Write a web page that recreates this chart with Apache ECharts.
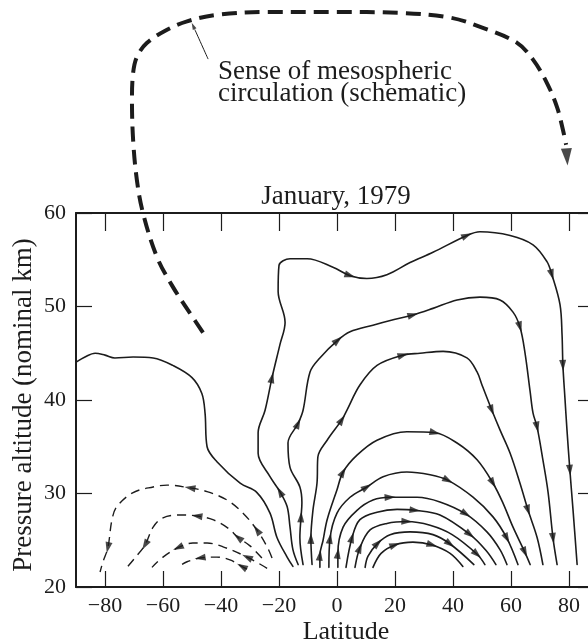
<!DOCTYPE html>
<html><head><meta charset="utf-8">
<script src="https://cdn.jsdelivr.net/npm/echarts@6/dist/echarts.min.js"></script>
<style>html,body{margin:0;padding:0;background:#fff}#c{width:588px;height:644px}</style>
</head><body><div id="c"></div>
<script>
// ---- tick values ----
const xTicks = [-80, -60, -40, -20, 0, 20, 40, 60, 80];
const yTicks = [20, 30, 40, 50, 60];

// ---- streamlines [latitude, pressure altitude km] ----
const boundary = [[-89.7,44.1],[-86.9,44.6],[-83.4,45.0],[-80.0,44.8],[-76.6,44.5],[-70.3,44.6],[-63.4,44.5],[-56.6,43.7],[-50.0,42.4],[-46.6,40.7],[-45.5,38.6],[-44.8,35.0],[-41.4,33.4],[-33.4,31.1],[-27.6,30.1],[-23.1,27.9],[-20.7,25.3],[-17.2,23.2],[-15.2,22.2]];

const s2 = [[-13.4,22.4],[-15.2,24.0],[-16.2,26.4],[-17.2,28.6],[-19.7,30.2],[-23.1,31.8],[-27.2,34.3],[-27.2,36.5],[-24.8,38.9],[-22.4,42.4],[-19.7,45.9],[-17.9,48.3],[-20.3,51.6],[-20.0,54.4],[-16.2,55.1],[-10.3,55.1],[-1.4,54.2],[4.5,53.3],[10.3,53.0],[17.2,53.4],[25.2,54.7],[33.1,55.8],[44.8,57.6],[49.3,58.0],[59.7,57.6],[67.6,56.6],[72.4,54.8],[74.1,53.4],[76.9,50.2],[77.6,47.0],[77.9,43.7],[78.6,40.2],[79.3,36.8],[80.3,32.5],[81.4,28.2],[82.8,22.4]];
const s2Arrows = [4, 9, 17, 22, 27, 30, 33];

const s3 = [[-11.7,22.4],[-12.8,25.3],[-12.4,27.5],[-12.1,29.0],[-12.8,30.7],[-16.2,32.8],[-16.9,35.4],[-13.4,37.5],[-11.7,38.9],[-9.3,43.0],[-5.9,44.5],[0.3,46.4],[4.5,47.3],[12.4,48.0],[19.7,48.6],[26.2,49.1],[33.1,49.8],[41.4,50.7],[49.3,51.0],[56.2,50.7],[60.7,49.4],[63.1,47.8],[64.8,45.1],[66.6,40.9],[67.6,38.6],[69.0,37.1],[71.0,33.6],[72.8,30.1],[74.5,25.2],[75.9,22.4]];
const s3Arrows = [2, 7, 11, 15, 21, 25, 28];

const s4 = [[-8.6,22.4],[-9.0,25.2],[-8.3,28.2],[-6.9,31.1],[-6.6,33.9],[-3.4,35.7],[1.7,37.9],[3.4,38.9],[7.9,41.6],[13.8,43.7],[22.8,44.8],[28.6,45.0],[36.6,45.2],[44.8,44.5],[48.3,43.0],[50.0,41.6],[53.4,38.9],[56.2,36.8],[59.7,34.3],[63.1,31.1],[65.9,28.2],[69.0,25.3],[71.0,22.4]];
const s4Arrows = [1, 6, 10, 16, 20];

const s5 = [[-5.9,22.1],[-5.9,23.4],[-4.8,25.0],[-3.4,27.2],[0,30.4],[2.1,32.3],[6.9,34.1],[13.8,35.7],[24.1,36.6],[33.8,36.5],[41.4,35.4],[48.3,33.6],[53.8,31.1],[57.2,29.0],[60.7,26.4],[64.8,23.7],[66.6,22.4]];
const s5Arrows = [1, 5, 9, 12, 15];

const s6 = [[-2.8,22.1],[-2.4,25.2],[0,27.9],[4.5,29.6],[10.3,30.7],[15.9,31.8],[24.1,32.3],[32.1,32.0],[38.3,31.4],[46.9,29.6],[53.8,27.5],[58.6,25.2],[62.4,22.4]];
const s6Arrows = [1, 4, 8, 11];

const s7 = [[0.3,22.1],[0.3,23.6],[2.1,26.4],[6.9,28.2],[12.4,29.3],[18.3,29.6],[27.6,29.6],[35.5,29.1],[44.5,27.8],[51.7,25.9],[56.2,24.0],[58.6,22.4]];
const s7Arrows = [1, 5, 8];

const s8 = [[3.1,22.1],[5.2,25.3],[7.9,27.2],[13.8,28.0],[20.7,28.3],[26.9,28.2],[35.5,27.7],[45.9,25.6],[51.4,23.9],[54.8,22.4]];
const s8Arrows = [1, 5, 7];

const s9 = [[6.2,22.1],[7.9,24.2],[11.4,26.1],[17.2,26.8],[24.1,27.0],[32.1,26.6],[39.7,25.6],[48.3,23.5],[51.0,22.4]];
const s9Arrows = [1, 4, 7];

const s10 = [[9.7,22.1],[10.7,23.3],[14.1,24.7],[18.3,25.6],[25.2,25.9],[33.1,25.6],[39.0,24.6],[47.2,22.4]];
const s10Arrows = [2, 6];

const s11 = [[12.4,22.1],[15.2,23.6],[20.0,24.5],[26.2,24.8],[32.8,24.5],[39.0,23.6],[43.4,22.2]];
const s11Arrows = [2, 4];

// southern (dashed) cells
const d1 = [[-22.4,23.1],[-24.1,24.3],[-27.6,26.1],[-32.4,27.9],[-37.9,29.3],[-44.8,30.2],[-50.7,30.6],[-58.6,30.9],[-63.4,30.7],[-70.3,30.1],[-75.9,28.6],[-77.6,27.2],[-79.0,24.2],[-80.7,22.7],[-81.7,21.6]];
const d1Arrows = [2, 6, 12];
const d2 = [[-25.9,23.1],[-30.0,24.4],[-34.1,25.3],[-37.6,26.3],[-42.8,27.2],[-48.3,27.6],[-54.1,27.7],[-60.0,27.4],[-63.4,26.4],[-66.2,24.5],[-69.7,23.1],[-72.4,22.1]];
const d2Arrows = [2, 5, 9];
const d3 = [[-24.1,22.0],[-31.0,23.2],[-39.3,24.3],[-44.8,24.7],[-49.7,24.7],[-54.8,24.2],[-60.0,23.2],[-63.8,22.1]];
const d3Arrows = [1, 5];
const d4 = [[-31.0,21.9],[-32.8,22.2],[-36.9,22.9],[-41.4,23.2],[-47.2,23.1],[-51.7,22.7],[-55.2,22.1]];
const d4Arrows = [1, 4];

// schematic mesospheric circulation (above the plotted range)
const meso = [[-46.2,47.2],[-50.7,49.3],[-56.6,52.1],[-62.1,55.3],[-66.9,60.0],[-69.0,63.5],[-70.3,67.8],[-70.7,72.1],[-70.3,75.0],[-69.0,76.7],[-65.5,78.2],[-58.6,79.6],[-51.7,80.5],[-41.4,81.2],[-24.1,81.5],[-1.4,81.5],[21.7,81.4],[39.0,80.9],[50.3,79.8],[62.1,78.2],[67.6,76.4],[72.4,73.9],[75.9,71.3],[77.9,68.9],[79.0,67.3],[79.3,66.0]];
const mesoArrows = [25];
const pointer = [[-44.5,76.5],[-49.0,79.6],[-49.6,80.0]];
const pointerArrows = [2];

const INK = '#1c1c1c';
const FONT = '"Liberation Serif", "Times New Roman", "DejaVu Serif", serif';

const solidLines = [s2, s3, s4, s5, s6, s7, s8, s9, s10, s11];
const solidArrowIdx = [s2Arrows, s3Arrows, s4Arrows, s5Arrows, s6Arrows, s7Arrows, s8Arrows, s9Arrows, s10Arrows, s11Arrows];
const dashedLines = [d1, d2, d3, d4];
const dashedArrowIdx = [d1Arrows, d2Arrows, d3Arrows, d4Arrows];

const series = [];
function lineSeries(id, data, style, clip) {
  return { id, type: 'line', data, smooth: 0.35, showSymbol: false, symbol: 'none', clip: clip !== false,
    lineStyle: Object.assign({ color: INK, width: 1.6, cap: 'round', join: 'round' }, style),
    silent: true, z: 3 };
}
series.push(lineSeries('boundary', boundary, {}));
solidLines.forEach((d, i) => series.push(lineSeries('s' + i, d, {})));
dashedLines.forEach((d, i) => series.push(lineSeries('d' + i, d, { type: [9, 6], width: 1.4, cap: 'butt' })));
series.push(lineSeries('meso', meso.slice(0, meso.length - 1), { type: [15, 8], width: 4, cap: 'butt' }, false));
series.push(lineSeries('pointer', pointer.slice(0, pointer.length - 1), { width: 1 }, false));
series.push({ id: 'arrows', type: 'scatter', data: [], symbol: 'triangle', symbolSize: [7, 11], clip: false,
  itemStyle: { color: INK }, silent: true, z: 5 });
series.push({ id: 'bigArrows', type: 'scatter', data: [], symbol: 'triangle', symbolSize: [11, 17], clip: false,
  itemStyle: { color: INK }, silent: true, z: 5 });
series.push({ id: 'tinyArrows', type: 'scatter', data: [], symbol: 'triangle', symbolSize: [4, 7], clip: false,
  itemStyle: { color: INK }, silent: true, z: 5 });

const axisLabelStyle = { color: INK, fontFamily: FONT, fontSize: 22 };

const option = {
  animation: false,
  backgroundColor: '#fff',
  title: { text: 'January, 1979', left: 331, top: 178, textAlign: 'center',
    textStyle: { fontFamily: FONT, fontSize: 27, fontWeight: 'normal', color: INK } },
  graphic: [{ type: 'text', left: 218, top: 58, silent: true,
    style: { text: 'Sense of mesospheric\ncirculation (schematic)', font: '27px ' + FONT, lineHeight: 22, fill: INK } }],
  grid: { left: 76, right: -10, top: 213, bottom: 57, containLabel: false, outerBoundsMode: 'none' },
  xAxis: [
    { type: 'value', min: -90, max: 90, position: 'bottom',
      name: 'Latitude', nameLocation: 'middle', nameGap: 32, nameMoveOverlap: false,
      nameTextStyle: { fontFamily: FONT, fontSize: 26, color: INK, padding: [0, 0, 0, 18] },
      axisLine: { show: true, onZero: false, lineStyle: { color: INK, width: 2.2 } },
      axisTick: { show: true, inside: true, length: 16, customValues: xTicks, lineStyle: { color: INK, width: 1.2 } },
      axisLabel: Object.assign({ margin: 8, customValues: xTicks, formatter: v => String(v).replace('-', '\u2212') }, axisLabelStyle),
      splitLine: { show: false } },
    { type: 'value', min: -90, max: 90, position: 'top',
      axisLine: { show: true, onZero: false, lineStyle: { color: INK, width: 2 } },
      axisTick: { show: true, inside: true, length: 18, customValues: xTicks, lineStyle: { color: INK, width: 1.2 } },
      axisLabel: { show: false }, splitLine: { show: false } }
  ],
  yAxis: [
    { type: 'value', min: 20, max: 60, interval: 10, position: 'left',
      name: 'Pressure altitude (nominal km)', nameLocation: 'middle', nameGap: 39, nameRotate: 90, nameMoveOverlap: false,
      nameTextStyle: { fontFamily: FONT, fontSize: 27, color: INK, padding: [0, 10, 0, 0] },
      axisLine: { show: true, onZero: false, lineStyle: { color: INK, width: 2 } },
      axisTick: { show: true, inside: true, length: 16, customValues: yTicks, lineStyle: { color: INK, width: 1.2 } },
      axisLabel: Object.assign({ margin: 10, customValues: yTicks }, axisLabelStyle),
      splitLine: { show: false } },
    { type: 'value', min: 20, max: 60, interval: 10, position: 'right',
      axisLine: { show: true, onZero: false, lineStyle: { color: INK, width: 2 } },
      axisTick: { show: true, inside: true, length: 20, customValues: yTicks, lineStyle: { color: INK, width: 1.2 } },
      axisLabel: { show: false }, splitLine: { show: false } }
  ],
  series
};

const chart = echarts.init(document.getElementById('c'), null, { renderer: 'canvas' });
chart.setOption(option);

function arrowItems(lines, idxLists) {
  const out = [];
  lines.forEach((pts, li) => {
    idxLists[li].forEach(i => {
      const a = chart.convertToPixel({ gridIndex: 0 }, pts[Math.max(i - 1, 0)]);
      const b = chart.convertToPixel({ gridIndex: 0 }, pts[Math.min(i + 1, pts.length - 1)]);
      const dx = b[0] - a[0], dy = b[1] - a[1];
      out.push({ value: pts[i], symbolRotate: Math.atan2(-dx, -dy) * 180 / Math.PI });
    });
  });
  return out;
}
chart.setOption({ series: [
  { id: 'arrows', data: arrowItems(solidLines.concat(dashedLines), solidArrowIdx.concat(dashedArrowIdx)) },
  { id: 'bigArrows', data: arrowItems([meso], [mesoArrows]) },
  { id: 'tinyArrows', data: arrowItems([pointer], [pointerArrows]) }
] });
</script>
</body></html>
